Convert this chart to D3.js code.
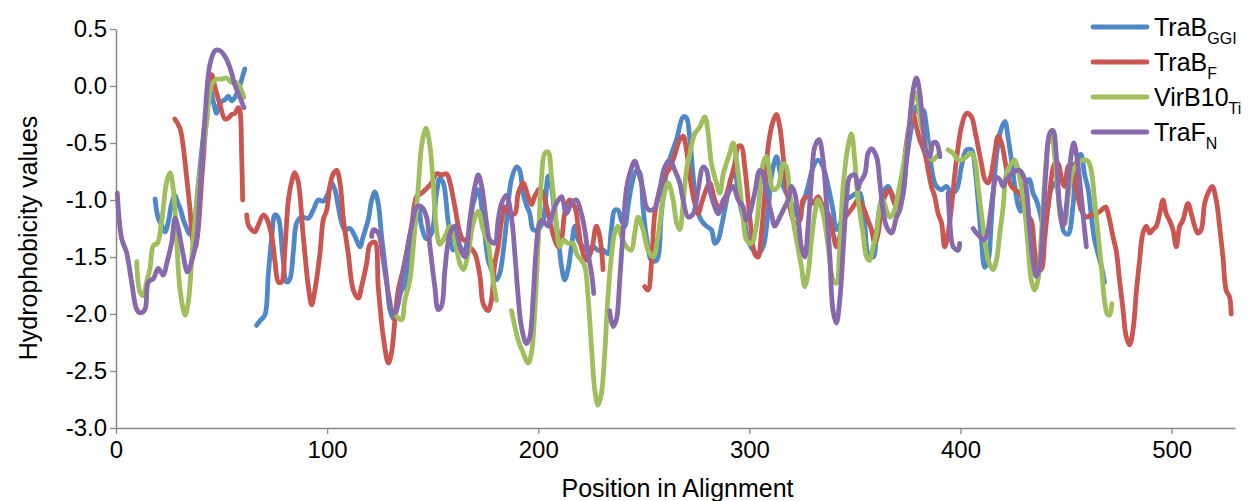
<!DOCTYPE html>
<html>
<head>
<meta charset="utf-8">
<script src="https://cdn.jsdelivr.net/npm/d3@7"></script>
<style>
  body { margin: 0; background: #fff; }
  svg { display: block; font-family: Arial, "Liberation Sans", sans-serif; }
</style>
</head>
<body>
<div id="chart"></div>
<script>
  var width = 1252;
  var height = 501;
  var margin = { top: 29, bottom: 73, left: 116, right: 17 };

  // series names (legend), with subscripts
  var seriesNames = [["TraB", "GGI"], ["TraB", "F"], ["VirB10", "Ti"], ["TraF", "N"]];
  var seriesColors = ["#4f88c8", "#cb5550", "#9ebf5b", "#8869ac"];

  var xTicks = [0, 100, 200, 300, 400, 500];
  var yTicks = [0.5, 0.0, -0.5, -1.0, -1.5, -2.0, -2.5, -3.0];

  // [position, hydrophobicity]; null value = gap in the line
  var traBGGI = [
    [18.5,-0.99],[20,-1.16],[21.6,-1.22],[23.2,-1.28],[24.8,-1.19],[26.4,-1.03],[27.9,-0.96],[29,-1.01],[30.5,-1.08],[32,-1.18],
    [33.5,-1.25],[35,-1.3],[37,-1.2],[39,-0.85],[41,-0.5],[43,-0.2],[45,-0.05],[46,-0.13],[47.7,-0.24],[49.2,-0.15],[51.6,-0.12],
    [53.2,-0.09],[54.8,-0.13],[56.3,-0.1],[58.7,0.01],[61,0.15],[63,null],
    [66.6,-2.1],[68.2,-2.06],[70.5,-2.01],[72.1,-1.66],[73.7,-1.34],[75.3,-1.13],[76.9,-1.16],[79,-1.49],[80.8,-1.72],[82.4,-1.69],
    [84,-1.45],[85.6,-1.2],[87.9,-1.15],[91.1,-1.16],[93.4,-1.09],[95.8,-1.0],[98.2,-1.01],[100.5,-0.94],[102.1,-0.85],[103.7,-0.91],
    [105.3,-1.06],[106.9,-1.2],[108.4,-1.26],[110.8,-1.25],[113.2,-1.32],[115.5,-1.41],[117.1,-1.32],[119.5,-1.17],[121.1,-1.0],
    [122.6,-0.93],[124.2,-1.03],[125.8,-1.32],[128.2,-1.7],[129.7,-1.96],[131.3,-2.04],[132.9,-1.96],[135.3,-1.79],[136.8,-1.76],
    [138.4,-1.58],[140.8,-1.17],[143.2,-1.06],[144.7,-1.23],[147.1,-1.34],[149.5,-1.29],[151.8,-0.94],[153.4,-0.81],[155,-0.85],
    [157.4,-1.2],[159.7,-1.44],[162.1,-1.38],[164.5,-1.47],[166.8,-1.32],[169.2,-1.03],[171.6,-0.91],[173.9,-1.17],[176.3,-1.53],
    [178,-1.62],[180.2,-1.7],[181.8,-1.64],[183.3,-1.47],[184.9,-1.2],[187.3,-0.82],[189.7,-0.71],[191.2,-0.74],[192.8,-0.94],
    [194.5,-1.05],[196,-1.12],[197.6,-1.26],[199.9,-1.26],[202.3,-1.18],[204.7,-0.79],[206.2,-0.88],[207.8,-1.12],[209.4,-1.32],
    [211,-1.58],[212.5,-1.7],[214.1,-1.61],[215.7,-1.41],[217.3,-1.23],[218.9,-1.35],[221.2,-1.41],[223.6,-1.44],[226,-1.41],
    [228.3,-1.44],[230.7,-1.44],[233,-1.47],[234.6,-1.26],[236.2,-1.09],[237.8,-1.09],[239.4,-1.18],[241,-1.23],[242.5,-1.06],
    [244.1,-0.88],[246.5,-0.74],[248.1,-0.76],[249.6,-1.06],[251.2,-1.32],[253.6,-1.53],[256,-1.53],[258.3,-1.12],[260.7,-0.76],
    [263,-0.6],[265.5,-0.47],[268.6,-0.27],[270.2,-0.28],[271.8,-0.47],[273.4,-0.8],[274.9,-1.06],[277.3,-1.18],[279.7,-1.23],
    [282,-1.26],[283.6,-1.38],[285.2,-1.35],[286.8,-1.23],[288.3,-1.09],[289.9,-0.94],[291.5,-0.8],[293.1,-0.77],[294.7,-0.94],
    [296.2,-1.09],[297.8,-1.2],[299.4,-1.35],[301.8,-1.44],[304.1,-1.47],[306.5,-1.41],[308.9,-1.09],[310.4,-0.8],[312.8,-0.62],
    [314.4,-0.74],[316,-0.88],[318.3,-0.97],[320.7,-1.06],[323.1,-1.15],[325.4,-1.03],[327.8,-0.88],[330.2,-0.71],[332.5,-0.65],
    [334.9,-0.71],[337.3,-0.88],[339.6,-1.09],[341.2,-1.26],[343.6,-1.18],[346,-1.0],[348.3,-0.97],[350.7,-0.94],[352.3,-0.94],
    [354.7,-1.23],[356.2,-1.47],[358.6,-1.5],[360.2,-1.29],[361.8,-1.06],[364.1,-0.91],[365.7,-0.88],[367.3,-0.94],[369.7,-1.03],
    [372,-1.0],[374.4,-0.65],[376.8,-0.36],[379.1,-0.18],[380.7,-0.24],[382.3,-0.21],[383.9,-0.36],[385.4,-0.59],[387,-0.8],
    [388.6,-0.88],[391,-0.91],[393.3,-0.88],[395.7,-0.94],[398.1,-0.91],[400.4,-0.71],[402.8,-0.56],[405.2,-0.56],[406.8,-0.71],
    [408.3,-1.0],[409.9,-1.35],[411.5,-1.59],[413.1,-1.53],[414.6,-1.18],[416.2,-0.77],[418.6,-0.42],[421,-0.31],[422.5,-0.45],
    [424.1,-0.65],[425.7,-0.88],[427.3,-1.05],[428.5,-1.1],[429.6,-0.94],[431.2,-0.85],[432.7,-0.82],[434.3,-0.94],[435.9,-1.0],
    [437.5,-1.1],[439,-1.2],[441,-1.1],[443,-0.9],[445,-0.85],[447,-1.05],[449,-1.28],[451,-1.3],[453.2,-1.06],[455.2,-0.65],
    [457,-0.6],[458.8,-0.78],[460.4,-0.9],[462,-1.15],[463.5,-1.35],[465.1,-1.47],[466.7,-1.58],[468.2,-1.72]
  ];

  var traBF = [
    [27.9,-0.29],[30.3,-0.37],[31.9,-0.54],[33.5,-0.81],[35,-1.07],[36.3,-1.35],[37.5,-1.42],[38.7,-1.3],[40.5,-0.85],[42.5,-0.35],
    [44.3,0.05],[45.3,0.1],[46.9,-0.01],[49.2,-0.16],[51.6,-0.29],[53.2,-0.28],[54.8,-0.25],[56.3,-0.24],[57.9,-0.19],[58.7,-0.22],
    [59.5,-0.6],[60,-1.0],[61,null],
    [61.9,-1.13],[62.7,-1.22],[64.2,-1.26],[65.8,-1.28],[67.4,-1.22],[69.8,-1.13],[71.3,-1.16],[73.7,-1.31],[75.3,-1.54],[76.9,-1.72],
    [78.4,-1.72],[80,-1.43],[81.6,-1.01],[83.2,-0.84],[84.7,-0.76],[86.3,-0.84],[88.7,-1.32],[91.1,-1.76],[92.7,-1.92],[94.2,-1.79],
    [96.6,-1.47],[98.2,-1.17],[99.8,-1.09],[101.3,-0.88],[102.9,-0.77],[104.5,-0.74],[106.1,-0.85],[107.7,-1.17],[110,-1.47],
    [112.4,-1.79],[114.8,-1.86],[116.3,-1.76],[118.7,-1.56],[120.3,-1.39],[122.6,-1.37],[124.2,-1.76],[126.6,-2.2],[129,-2.43],
    [130.5,-2.34],[132.1,-2.05],[133.7,-1.79],[136,-1.61],[137.6,-1.47],[140,-1.23],[142.4,-0.97],[144.7,-0.94],[147.1,-0.9],
    [149.5,-0.85],[151.8,-0.77],[154.2,-0.78],[156.6,-0.77],[158.2,-0.85],[160.5,-1.06],[162.9,-1.29],[164.5,-1.35],[166,-1.35],
    [167.6,-1.41],[170,-1.47],[172.4,-1.67],[173.9,-1.91],[176.2,-1.97],[177.8,-1.88],[179.4,-1.56],[181,-1.41],[182.6,-1.18],
    [184.1,-1.06],[186.5,-1.12],[188.9,-1.12],[190.5,-0.94],[192.8,-0.85],[195.2,-0.97],[196.8,-1.04],[198.3,-0.97],[200.7,-0.9],
    [203.1,-1.0],[205.4,-1.18],[207.8,-1.35],[209.4,-1.41],[211,-1.35],[212.5,-1.12],[214.9,-1.0],[217.3,-1.06],[218.9,-1.23],
    [220.4,-1.41],[222.8,-1.53],[225.2,-1.44],[227.5,-1.23],[229.1,-1.32],[230.7,-1.61],[232,null],
    [250.4,-1.76],[252,-1.79],[253.6,-1.56],[255.2,-1.12],[257.5,-0.91],[259.9,-0.79],[262.3,-0.72],[264.7,-0.6],[267,-0.47],
    [268.6,-0.44],[270.2,-0.56],[271.8,-0.8],[274.1,-1.03],[275.7,-1.12],[277.3,-1.03],[278.9,-0.94],[281.2,-0.85],[283.6,-1.0],
    [286,-1.09],[288.3,-1.0],[290.7,-0.85],[293.1,-0.68],[294.7,-0.53],[296.2,-0.53],[297.8,-0.71],[299.4,-1.0],[301,-1.29],
    [302.5,-1.47],[304.1,-1.5],[305.7,-1.29],[307.3,-0.94],[308.9,-0.53],[311.2,-0.31],[312.8,-0.25],[314.4,-0.36],[316,-0.62],
    [317.5,-0.88],[319.1,-1.06],[321.5,-1.2],[323.9,-1.18],[325.4,-1.0],[327.8,-0.97],[330.2,-1.03],[332.5,-0.97],[334.9,-1.06],
    [337.3,-1.12],[339.6,-1.29],[341.2,-1.41],[342.8,-1.32],[344.4,-1.18],[346.7,-1.12],[349.1,-1.06],[351.5,-1.0],[353.8,-1.06],
    [356.2,-1.18],[357.8,-1.26],[359.4,-1.38],[361,-1.29],[362.6,-1.06],[364.9,-0.94],[366.5,-0.91],[368.1,-1.0],[369.7,-1.06],
    [372,-0.88],[374.4,-0.5],[376,-0.33],[377.5,-0.24],[379.1,-0.36],[380.7,-0.47],[383.1,-0.59],[384.7,-0.74],[386.2,-0.88],
    [387.8,-0.97],[389.4,-1.12],[391,-1.2],[392.5,-1.41],[394.1,-1.29],[395.7,-1.06],[397.3,-0.77],[398.9,-0.53],[400.4,-0.36],
    [402.8,-0.24],[405.2,-0.27],[406.8,-0.39],[408.3,-0.53],[409.9,-0.68],[411.5,-0.82],[413.1,-0.85],[414.6,-0.77],[416.2,-0.59],
    [417.8,-0.44],[419.4,-0.5],[421,-0.65],[422.5,-0.8],[424.1,-0.88],[425.7,-0.91],[428,-0.94],[431.2,-1.12],[433.5,-1.18],
    [435.1,-1.44],[436.7,-1.61],[438.3,-1.61],[439.8,-1.35],[442.2,-0.94],[444.6,-0.68],[446.2,-0.68],[447.7,-0.8],[449.3,-0.88],
    [450.9,-0.71],[452.5,-0.68],[454.1,-0.82],[455.6,-0.97],[457.2,-1.09],[459.6,-1.15],[461.9,-1.13],[464.3,-1.12],[466.7,-1.09],
    [468.7,-1.06],[470.3,-1.15],[472.2,-1.32],[473.8,-1.45],[475.3,-1.7],[476.9,-1.95],[478.5,-2.2],[480.1,-2.27],[481.7,-2.14],
    [483.2,-1.82],[484.8,-1.53],[486.4,-1.29],[488,-1.23],[489.6,-1.29],[491.1,-1.26],[492.7,-1.23],[494.3,-1.12],[495.9,-1.0],
    [497.4,-1.12],[499,-1.18],[500.6,-1.26],[502.2,-1.41],[503.8,-1.23],[505.3,-1.18],[507.7,-1.03],[509.3,-1.12],[510.9,-1.23],
    [512.4,-1.29],[514,-1.26],[515.6,-1.03],[517.2,-0.94],[519.2,-0.88],[521.1,-1.0],[522.7,-1.23],[524.3,-1.5],[525.8,-1.79],
    [527.4,-1.85],[528.2,-2.0]
  ];

  var virB10Ti = [
    [9.8,-1.54],[11.4,-1.81],[12.9,-1.84],[14.5,-1.72],[16.1,-1.6],[17.7,-1.4],[19.6,-1.38],[21.6,-1.19],[24,-0.84],[25.6,-0.76],
    [27.1,-0.9],[28.7,-1.34],[30.3,-1.78],[32.7,-2.01],[34.2,-1.9],[36.6,-1.34],[39.8,-0.75],[43,-0.31],[45.3,0.01],[47.7,0.06],
    [50,0.06],[52.4,0.07],[54.8,0.03],[57.1,0.03],[59.5,-0.04],[60.5,-0.1],[62,null],
    [132.9,-2.02],[135.3,-2.05],[136.8,-1.88],[139.2,-1.7],[140.8,-1.41],[143.2,-0.88],[144.7,-0.53],[146.8,-0.37],[148.7,-0.53],
    [150.3,-0.88],[151.8,-1.26],[153.4,-1.39],[155.8,-1.32],[158.2,-1.23],[160.5,-1.35],[162.9,-1.56],[164.5,-1.61],[166.8,-1.47],
    [169.2,-1.2],[171.6,-1.1],[173.9,-1.26],[176.3,-1.38],[177,-1.47],[178.6,-1.7],[180.2,-1.88],[182,null],
    [187.3,-1.97],[188.9,-2.11],[190.5,-2.23],[192.8,-2.34],[195.2,-2.43],[196.8,-2.34],[198.3,-1.99],[199.9,-1.41],[201.5,-0.82],
    [203.1,-0.59],[204.7,-0.58],[206.2,-0.79],[207.8,-1.06],[210.2,-1.41],[211.8,-1.35],[214.1,-1.38],[216.5,-1.38],[218.1,-1.47],
    [220.4,-1.53],[222,-1.58],[223.6,-1.85],[225.2,-2.29],[226.8,-2.67],[228.3,-2.8],[229.9,-2.7],[231.5,-2.34],[233,-1.85],
    [234.6,-1.5],[236.2,-1.29],[237.8,-1.23],[239.4,-1.32],[241.7,-1.41],[244.1,-1.44],[245.7,-1.29],[247.3,-1.15],[249.6,-1.26],
    [252,-1.44],[254.4,-1.5],[256.7,-1.32],[259.1,-1.0],[261.5,-0.85],[263.9,-1.0],[265.5,-1.2],[267,-1.26],[268.6,-1.03],
    [270.2,-0.74],[271.8,-0.59],[274.1,-0.42],[276.5,-0.36],[278.9,-0.27],[280.5,-0.42],[282,-0.68],[284.4,-0.85],[286,-0.94],
    [287.6,-0.77],[289.1,-0.68],[290.7,-0.59],[292.3,-0.5],[293.9,-0.65],[295.4,-0.88],[297,-1.15],[298.6,-1.35],[301,-1.38],
    [303.3,-1.23],[304.9,-0.94],[306.5,-0.68],[308.1,-0.62],[309.6,-0.77],[311.2,-0.91],[313.6,-0.88],[316,-0.68],[317.5,-0.71],
    [319.1,-0.94],[320.7,-1.18],[322.3,-1.35],[324.6,-1.58],[326.2,-1.76],[327.8,-1.64],[329.4,-1.35],[331,-1.12],[332.5,-1.0],
    [334.9,-1.12],[337.3,-1.41],[339.6,-1.7],[341.2,-1.73],[342.8,-1.41],[344.4,-0.88],[346.7,-0.53],[348.3,-0.42],[349.9,-0.65],
    [351.5,-1.0],[353.8,-1.29],[355.5,-1.5],[357,-1.53],[358.6,-1.41],[360.2,-1.29],[361.8,-1.06],[363.3,-1.0],[364.9,-1.09],
    [366.5,-1.15],[368.1,-1.12],[370.5,-0.94],[372.8,-0.71],[375.2,-0.44],[377.5,-0.12],[379.1,-0.06],[380.7,-0.27],[382.3,-0.42],
    [383.9,-0.53],[385.4,-0.62],[387,-0.65],[388.6,-0.62],[390.2,-0.59],[392,null],
    [394.1,-0.56],[396.5,-0.59],[398.9,-0.65],[401.2,-0.64],[402.8,-0.62],[405.2,-0.59],[406.8,-0.65],[408.3,-0.88],[409.9,-1.12],
    [411.5,-1.35],[413.1,-1.53],[415.4,-1.61],[417,-1.53],[418.6,-1.29],[420.2,-1.06],[421.7,-0.77],[424.1,-0.68],[425.7,-0.65],
    [427.3,-0.74],[428.5,-0.85],[430.4,-1.09],[432,-1.41],[433.5,-1.7],[435.1,-1.79],[436.7,-1.7],[438.3,-1.29],[439.8,-0.85],
    [441.4,-0.5],[443,-0.39],[444.6,-0.62],[446.2,-0.94],[447.7,-1.18],[449.3,-1.21],[450.9,-0.97],[453.3,-0.74],[455.6,-0.68],
    [458,-0.65],[460.4,-0.66],[461.9,-0.74],[463.5,-1.0],[465.1,-1.29],[466.7,-1.58],[468.2,-1.88],[469.5,-2.0],[470.6,-2.01],
    [471.7,-1.91]
  ];

  var traFN = [
    [0.6,-0.94],[2.7,-1.34],[5,-1.46],[7.4,-1.72],[9.8,-1.96],[11.4,-1.99],[13.7,-1.96],[15.3,-1.72],[17.7,-1.69],[20,-1.6],
    [22.4,-1.66],[24,-1.56],[26.4,-1.37],[28,-1.16],[29.5,-1.25],[31.9,-1.49],[33.8,-1.63],[35.8,-1.54],[38.2,-1.34],[39.8,-0.9],
    [42,-0.31],[44.5,0.19],[46.9,0.31],[49.2,0.31],[51.6,0.26],[54,0.16],[56.3,0.01],[58.7,-0.1],[60.6,-0.19],[62,null],
    [121.1,-1.32],[121.9,-1.26],[124.2,-1.29],[126.6,-1.53],[129,-1.82],[131.3,-1.99],[132.9,-1.96],[135.3,-1.7],[137.6,-1.47],
    [140,-1.23],[142.4,-1.06],[144.7,-1.06],[147.1,-1.15],[148.7,-1.41],[151,-1.76],[152.6,-1.96],[154.2,-1.93],[155.8,-1.61],
    [158.2,-1.29],[160.5,-1.23],[162.9,-1.41],[165.3,-1.5],[167.6,-1.17],[170,-0.88],[171.6,-0.78],[173.2,-0.88],[175.5,-1.2],
    [177,-1.35],[179.4,-1.38],[181,-1.18],[182.6,-1.03],[184.9,-0.96],[187.3,-1.15],[188.9,-1.47],[190.5,-1.85],[192,-2.11],
    [194.4,-2.26],[196,-2.2],[197.6,-1.85],[199.1,-1.41],[200.7,-1.2],[202.3,-1.18],[204.7,-1.23],[206.2,-1.15],[208.6,-1.03],
    [211,-0.97],[213.3,-1.12],[215.7,-1.03],[218.1,-1.0],[220.4,-1.12],[222,-1.26],[223.6,-1.47],[225.2,-1.64],[226.3,-1.82],[228,null],
    [233.8,-1.97],[235.4,-2.11],[237,-2.05],[238.6,-1.7],[240.2,-1.26],[241.7,-0.91],[243.3,-0.77],[245.7,-0.66],[247.7,-0.77],
    [249.6,-0.91],[251.2,-1.06],[252.8,-1.09],[255.2,-1.07],[257.5,-0.91],[259.9,-0.71],[262.3,-0.65],[264.7,-0.74],[267,-0.85],
    [268.6,-1.0],[271,-1.15],[273.4,-1.12],[275.7,-0.91],[278.1,-0.71],[279.7,-0.74],[281.2,-0.91],[283.6,-1.06],[285.2,-1.12],
    [287.6,-1.0],[289.9,-0.94],[292.3,-0.88],[294.7,-1.0],[297,-1.06],[298.6,-1.18],[300.2,-1.12],[302.5,-0.94],[304.9,-0.74],
    [306.5,-0.77],[308.1,-0.94],[310.4,-1.12],[312,-1.23],[313.6,-1.18],[316,-1.09],[318.3,-1.0],[319.9,-0.88],[321.5,-0.94],
    [323.1,-1.15],[324.6,-1.41],[326.2,-1.5],[327.8,-1.23],[329.4,-0.82],[331,-0.53],[333,-0.47],[334.9,-0.65],[336.5,-1.03],
    [338.1,-1.5],[339.6,-1.97],[341.2,-2.08],[342.8,-1.88],[344.4,-1.44],[346,-1.0],[347.5,-0.8],[349.9,-0.78],[351.5,-0.9],
    [352.3,-0.85],[354.7,-0.77],[356.2,-0.59],[357.8,-0.55],[360.2,-0.62],[361.8,-0.85],[363.3,-1.09],[364.9,-1.23],[367.3,-1.29],
    [369.7,-1.15],[371.2,-1.09],[372.8,-0.94],[374.4,-0.65],[376,-0.3],[377.5,-0.04],[379.1,0.07],[380.7,-0.06],[382.3,-0.36],
    [383.9,-0.59],[385.4,-0.62],[387,-0.5],[388.6,-0.5],[390.2,-0.62],[392,null],
    [394.1,-0.94],[394.9,-1.18],[396.5,-1.41],[398.9,-1.44],[399.6,-1.38],[402,null],
    [406,-1.25],[407.5,-1.29],[409.1,-1.32],[410.7,-1.35],[412.3,-1.32],[413.9,-1.15],[415.4,-0.94],[417,-0.8],[418.6,-0.82],
    [420.2,-0.88],[421.7,-0.82],[424.1,-0.77],[426.5,-0.74],[428,-0.74],[430.4,-0.82],[432.7,-1.23],[434.3,-1.53],[435.9,-1.67],
    [437.5,-1.59],[439,-1.23],[440.6,-0.71],[442.2,-0.42],[443.8,-0.39],[445.4,-0.62],[446.9,-1.06],[448.5,-1.23],[450.1,-1.06],
    [451.7,-0.71],[453.6,-0.5],[455.1,-0.62],[456.7,-0.88],[458.3,-1.18],[459.6,-1.41]
  ];

  var allSeries = [traBGGI, traBF, virB10Ti, traFN];

  var svg = d3.select("#chart")
              .append("svg")
              .attr("width", width)
              .attr("height", height);

  svg.append("rect").attr("width", width).attr("height", height).attr("fill", "#fff");

  var xScale = d3.scaleLinear()
    .domain([0, 530])
    .range([margin.left, width - margin.right]);

  var yScale = d3.scaleLinear()
    .domain([-3, 0.5])
    .range([height - margin.bottom, margin.top]);

  var axisColor = "#888888";

  // x axis
  var axisx = d3.axisBottom(xScale).tickValues(xTicks).tickSizeInner(6).tickSizeOuter(0).tickPadding(7)
                .tickFormat(function(d) { return d; });
  var gx = svg.append("g")
    .attr("transform", "translate(0," + (height - margin.bottom) + ")")
    .call(axisx);

  // y axis
  var axisy = d3.axisLeft(yScale).tickValues(yTicks).tickSizeInner(6).tickSizeOuter(0).tickPadding(3)
                .tickFormat(function(d) { return d.toFixed(1); });
  var gy = svg.append("g")
    .attr("transform", "translate(" + margin.left + ",0)")
    .call(axisy);

  [gx, gy].forEach(function(g) {
    g.select(".domain").attr("stroke", axisColor).attr("stroke-width", 1.5);
    g.selectAll(".tick line").attr("stroke", axisColor).attr("stroke-width", 1.3);
    g.selectAll(".tick text").attr("fill", "#000").attr("font-size", "24px")
      .attr("font-family", "Arial, 'Liberation Sans', sans-serif");
  });

  // axis titles
  svg.append("text")
    .attr("x", (margin.left + width - margin.right) / 2 + 2)
    .attr("y", 497)
    .attr("text-anchor", "middle")
    .attr("font-size", "25px")
    .text("Position in Alignment");

  svg.append("text")
    .attr("transform", "translate(37," + 238 + ") rotate(-90)")
    .attr("text-anchor", "middle")
    .attr("font-size", "25px")
    .text("Hydrophobicity values");

  // lines
  var line = d3.line()
    .defined(function(d) { return d[1] !== null; })
    .x(function(d) { return xScale(d[0]); })
    .y(function(d) { return yScale(d[1]); })
    .curve(d3.curveCatmullRom.alpha(0.5));

  svg.append("g").attr("class", "lines")
    .selectAll("path")
    .data(allSeries)
    .enter()
    .append("path")
    .attr("d", line)
    .attr("fill", "none")
    .attr("stroke", function(d, i) { return seriesColors[i]; })
    .attr("stroke-width", 4.8)
    .attr("stroke-linejoin", "round")
    .attr("stroke-linecap", "round");

  // legend
  var legend = svg.append("g").attr("class", "legend");
  var rows = legend.selectAll("g")
    .data(seriesNames)
    .enter()
    .append("g")
    .attr("transform", function(d, i) { return "translate(1093," + (27 + i * 35) + ")"; });

  rows.append("line")
    .attr("x1", 0).attr("x2", 54)
    .attr("stroke", function(d, i) { return seriesColors[i]; })
    .attr("stroke-width", 4.8)
    .attr("stroke-linecap", "round");

  var label = rows.append("text")
    .attr("x", 61)
    .attr("y", 9)
    .attr("font-size", "25px")
    .attr("fill", "#000");
  label.append("tspan").text(function(d) { return d[0]; });
  label.append("tspan")
    .attr("dy", 8)
    .attr("font-size", "16px")
    .text(function(d) { return d[1]; });
</script>
</body>
</html>
